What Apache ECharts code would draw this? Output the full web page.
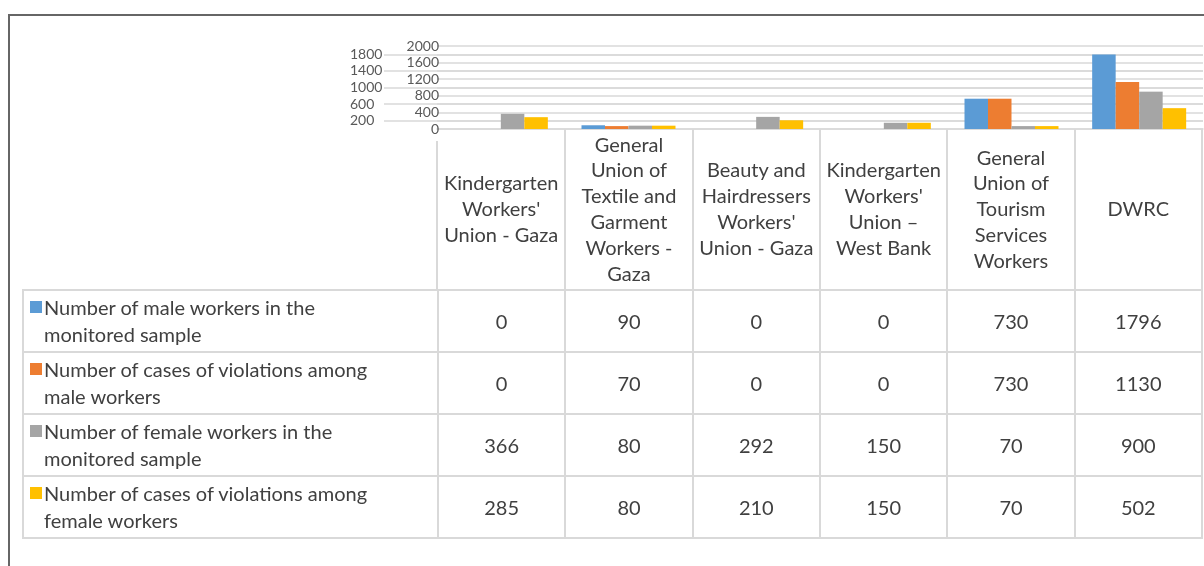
<!DOCTYPE html>
<html>
<head>
<meta charset="utf-8">
<script src="https://cdn.jsdelivr.net/npm/echarts@6/dist/echarts.min.js"></script>
<style>
  html, body { margin: 0; padding: 0; background: #fff; }
  #wrap { position: relative; width: 1204px; height: 566px; overflow: hidden; font-family: Lato, sans-serif; color: #404040; }
  #frame { position: absolute; left: 8px; top: 14px; width: 1300px; height: 700px; border-top: 2px solid #666; border-left: 2px solid #666; box-sizing: border-box; }
  #chart { position: absolute; left: 0; top: 0; width: 1204px; height: 566px; }
  #table { position: absolute; left: 22px; top: 129px; border-collapse: collapse; table-layout: fixed; width: 1181px; font-size: 20px; }
  #table td { border: 2px solid #d9d9d9; padding: 0; text-align: center; vertical-align: middle; }
  #table td.corner { border-top: none; border-left: none; border-right: none; }
  #table tr.head td { border-top: none; height: 160px; line-height: 25.8px; white-space: pre-line; }
  #table tr.head td.first { border-left: none; }
  #table tr.row td { height: 60px; }
  #table td.label { text-align: left; }
  #sep { position: absolute; left: 436px; top: 141px; width: 2px; height: 150px; background: #d9d9d9; }
  .lab { display: flex; align-items: flex-start; padding-left: 6px; }
  .mk { width: 12px; height: 12px; margin: 7px 2px 0 0; flex: none; }
  .tx { white-space: pre-line; line-height: 27px; }
</style>
</head>
<body>
<div id="wrap">
  <div id="frame"></div>
  <div id="chart"></div>
  <table id="table"></table>
  <div id="sep"></div>
</div>
<script>
// categories (header of the data table)
var categories = [
    "Kindergarten\nWorkers'\nUnion - Gaza",
    "General\nUnion of\nTextile and\nGarment\nWorkers -\nGaza",
    "Beauty and\nHairdressers\nWorkers'\nUnion - Gaza",
    "Kindergarten\nWorkers'\nUnion \u2013\nWest Bank",
    "General\nUnion of\nTourism\nServices\nWorkers",
    "DWRC"
];

var seriesNames = [
    "Number of male workers in the\nmonitored sample",
    "Number of cases of violations among\nmale workers",
    "Number of female workers in the\nmonitored sample",
    "Number of cases of violations among\nfemale workers"
];

var maleSample = [0, 90, 0, 0, 730, 1796];
var maleViolations = [0, 70, 0, 0, 730, 1130];
var femaleSample = [366, 80, 292, 150, 70, 900];
var femaleViolations = [285, 80, 210, 150, 70, 502];

var colors = ['#5B9BD5', '#ED7D31', '#A5A5A5', '#FFC000'];
var allSeries = [maleSample, maleViolations, femaleSample, femaleViolations];

// build the data table under the plot
var table = document.getElementById('table');
var html = '<colgroup><col style="width:415px">';
categories.forEach(function () { html += '<col>'; });
html += '</colgroup><tr class="head"><td class="corner"></td>';
categories.forEach(function (c, j) { html += '<td' + (j === 0 ? ' class="first"' : '') + '>' + c + '</td>'; });
html += '</tr>';
allSeries.forEach(function (values, i) {
    html += '<tr class="row"><td class="label"><div class="lab"><span class="mk" style="background:' + colors[i] + '"></span><span class="tx">' + seriesNames[i] + '</span></div></td>';
    values.forEach(function (v) { html += '<td>' + v + '</td>'; });
    html += '</tr>';
});
table.innerHTML = html;

var myChart = echarts.init(document.getElementById('chart'));

var axisFont = { fontSize: 14, color: '#595959', fontFamily: 'Lato' };
var gridLine = { lineStyle: { color: '#d9d9d9', width: 1.5 } };

var option = {
    animation: false,
    grid: [
        { left: 437, right: 1, top: 46, bottom: 437 },
        // second label column (200, 600, ... 1800) drawn by Excel further left
        { left: 384, right: 1, top: 54.3, bottom: 445.3 }
    ],
    xAxis: [
        {
            type: 'category',
            gridIndex: 0,
            data: categories,
            axisLabel: { show: false },
            axisTick: { show: false },
            axisLine: { lineStyle: { color: '#d9d9d9', width: 1.5 } }
        },
        { type: 'value', gridIndex: 1, show: false }
    ],
    yAxis: [
        {
            type: 'value',
            gridIndex: 0,
            min: 0,
            max: 2000,
            interval: 200,
            axisLine: { show: false },
            axisTick: { show: false },
            axisLabel: Object.assign({
                margin: -2,
                formatter: function (v) { return v % 400 === 0 ? String(v) : ''; }
            }, axisFont),
            splitLine: gridLine
        },
        {
            type: 'value',
            gridIndex: 1,
            min: 200,
            max: 1800,
            interval: 400,
            axisLine: { show: false },
            axisTick: { show: false },
            axisLabel: Object.assign({
                margin: 34,
                align: 'left',
                formatter: function (v) { return String(v); }
            }, axisFont),
            splitLine: gridLine
        }
    ],
    series: allSeries.map(function (values, i) {
        return {
            name: seriesNames[i],
            type: 'bar',
            xAxisIndex: 0,
            yAxisIndex: 0,
            barWidth: 23.5,
            barGap: '0%',
            itemStyle: { color: colors[i] },
            data: values
        };
    })
};

myChart.setOption(option);
</script>
</body>
</html>
